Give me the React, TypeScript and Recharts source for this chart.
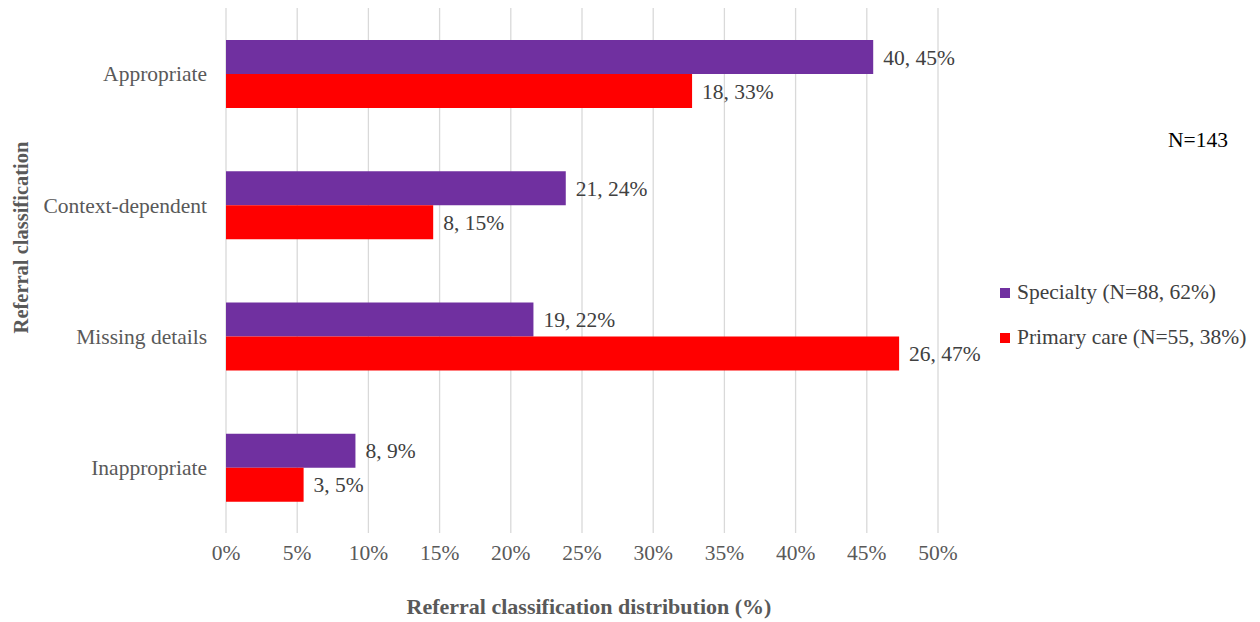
import React from "react";
import { BarChart, Bar, XAxis, YAxis, CartesianGrid, LabelList, Legend } from "recharts";

const categories = ["Appropriate", "Context-dependent", "Missing details", "Inappropriate"];
const specialtyCounts = [40, 21, 19, 8];
const specialtyPct = [45.45, 23.86, 21.59, 9.09];
const primaryCounts = [18, 8, 26, 3];
const primaryPct = [32.73, 14.55, 47.27, 5.45];
const xTicks = [0, 5, 10, 15, 20, 25, 30, 35, 40, 45, 50];
const seriesNames = ["Specialty (N=88, 62%)", "Primary care (N=55, 38%)"];
const totalLabel = "N=143";

const data = categories.map((c, i) => ({
  name: c,
  specialty: specialtyPct[i],
  primary: primaryPct[i],
  specialtyLabel: `${specialtyCounts[i]}, ${Math.round(specialtyPct[i])}%`,
  primaryLabel: `${primaryCounts[i]}, ${Math.round(primaryPct[i])}%`,
}));

const FONT = "'Liberation Serif', 'Times New Roman', serif";
const PURPLE = "#7030A0";
const RED = "#FF0000";

const renderLegend = () => (
  <div style={{ fontFamily: FONT, fontSize: 21.5, color: "#404040" }}>
    {[PURPLE, RED].map((col, i) => (
      <div key={i} style={{ display: "flex", alignItems: "center", height: 45 }}>
        <span style={{ display: "inline-block", width: 10, height: 10, background: col, marginRight: 7 }} />
        <span>{seriesNames[i]}</span>
      </div>
    ))}
  </div>
);

const XTitle = (props: any) => {
  const vb = props.viewBox || { x: 0, y: 0, width: 0, height: 0 };
  return (
    <text
      x={vb.x + vb.width / 2 + 7}
      y={614}
      textAnchor="middle"
      fontFamily={FONT}
      fontSize={22}
      fontWeight="bold"
      fill="#595959"
    >
      Referral classification distribution (%)
    </text>
  );
};

const YTitle = (props: any) => {
  const vb = props.viewBox || { x: 0, y: 0, width: 0, height: 0 };
  const cx = 28;
  const cy = vb.y + vb.height / 2 - 33;
  return (
    <text
      x={cx}
      y={cy}
      transform={`rotate(-90 ${cx} ${cy})`}
      textAnchor="middle"
      fontFamily={FONT}
      fontSize={20.5}
      fontWeight="bold"
      fill="#595959"
    >
      Referral classification
    </text>
  );
};

export default function App() {
  return (
    <div style={{ position: "absolute", left: 0, top: 0, width: 1260, height: 622, background: "#fff" }}>
      <BarChart
        width={1260}
        height={622}
        data={data}
        layout="vertical"
        margin={{ top: 8, right: 322, bottom: 0, left: 0 }}
        barGap={0}
      >
        <CartesianGrid horizontal={false} stroke="#D9D9D9" strokeWidth={1.3} />
        <XAxis
          type="number"
          domain={[0, 50]}
          ticks={xTicks}
          tickFormatter={(v: number) => `${v}%`}
          axisLine={false}
          tickLine={false}
          tickSize={0}
          tickMargin={12}
          height={89}
          tick={{ fontFamily: FONT, fontSize: 21.5, fill: "#595959" }}
          label={<XTitle />}
        />
        <YAxis
          type="category"
          dataKey="name"
          width={226}
          axisLine={false}
          tickLine={false}
          tickSize={0}
          tickMargin={19}
          tick={{ fontFamily: FONT, fontSize: 21.5, fill: "#595959" }}
          label={<YTitle />}
        />
        <Legend
          layout="vertical"
          align="center"
          verticalAlign="middle"
          content={renderLegend}
          wrapperStyle={{ position: "absolute", left: 1000, top: 270, width: 260 }}
        />
        <Bar dataKey="specialty" name={seriesNames[0]} fill={PURPLE} barSize={34} isAnimationActive={false}>
          <LabelList
            dataKey="specialtyLabel"
            position="right"
            offset={10}
            style={{ fontFamily: FONT, fontSize: 21.5, fill: "#404040" }}
          />
        </Bar>
        <Bar dataKey="primary" name={seriesNames[1]} fill={RED} barSize={34} isAnimationActive={false}>
          <LabelList
            dataKey="primaryLabel"
            position="right"
            offset={10}
            style={{ fontFamily: FONT, fontSize: 21.5, fill: "#404040" }}
          />
        </Bar>
      </BarChart>
      <div
        style={{
          position: "absolute",
          left: 1168,
          top: 127,
          fontFamily: FONT,
          fontSize: 21.5,
          color: "#000",
          lineHeight: "26px",
        }}
      >
        {totalLabel}
      </div>
    </div>
  );
}
